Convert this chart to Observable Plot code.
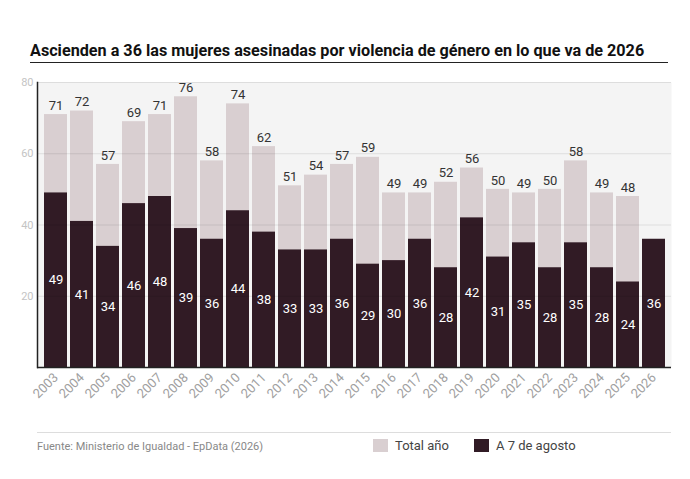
<!DOCTYPE html>
<html>
<head>
<meta charset="utf-8">
<script src="https://cdn.jsdelivr.net/npm/d3@7"></script>
<script src="https://cdn.jsdelivr.net/npm/@observablehq/plot@0.6"></script>
<style>
  html, body { margin: 0; padding: 0; background: #fff; }
  #wrap { position: relative; width: 690px; height: 479px; font-family: Roboto, "Liberation Sans", sans-serif; }
  #title { position: absolute; left: 30px; top: 41px; width: 638px; font-size: 16.2px; font-weight: bold; color: #111;
           border-bottom: 1.5px solid #222; padding-bottom: 2px; white-space: nowrap; }
  #chart { position: absolute; left: 0; top: 68px; }
  #sep { position: absolute; left: 37px; top: 432px; width: 634px; height: 0; border-top: 1px solid #ddd; }
  #source { position: absolute; left: 37px; top: 440px; font-size: 11px; color: #888; }
  #legend { position: absolute; left: 373px; top: 438px; font-size: 13px; color: #444; display: flex; align-items: center; }
  .sw { display: inline-block; width: 15px; height: 13px; margin-right: 7px; }
  .item { display: flex; align-items: center; margin-right: 25px; }
</style>
</head>
<body>
<div id="wrap">
  <div id="title">Ascienden a 36 las mujeres asesinadas por violencia de género en lo que va de 2026</div>
  <div id="chart"></div>
  <div id="sep"></div>
  <div id="source">Fuente: Ministerio de Igualdad - EpData (2026)</div>
  <div id="legend">
    <span class="item"><span class="sw" style="background:#d9cfd1"></span>Total año</span>
    <span class="item"><span class="sw" style="background:#311b25"></span>A 7 de agosto</span>
  </div>
</div>
<script>
const years = ["2003","2004","2005","2006","2007","2008","2009","2010","2011","2012","2013","2014","2015","2016","2017","2018","2019","2020","2021","2022","2023","2024","2025","2026"];
const totalAnio = [71,72,57,69,71,76,58,74,62,51,54,57,59,49,49,52,56,50,49,50,58,49,48,null];
const aSieteAgosto = [49,41,34,46,48,39,36,44,38,33,33,36,29,30,36,28,42,31,35,28,35,28,24,36];
const yTicks = [20,40,60,80];

const lightColor = "#d9cfd1";
const darkColor = "#311b25";

const totals = years.map((y, i) => ({year: y, value: totalAnio[i]})).filter(d => d.value != null);
const partial = years.map((y, i) => ({year: y, value: aSieteAgosto[i]}));

const chart = Plot.plot({
  width: 690,
  height: 345,
  marginTop: 14,
  marginLeft: 37,
  marginRight: 19,
  marginBottom: 46,
  style: {fontFamily: "Roboto, sans-serif", background: "transparent"},
  x: {domain: years, padding: 0.13, label: null},
  y: {domain: [0, 80], label: null},
  marks: [
    Plot.frame({fill: "#f4f4f4", stroke: null}),
    Plot.barY(totals, {x: "year", y: "value", fill: lightColor}),
    Plot.barY(partial, {x: "year", y: "value", fill: darkColor}),
    Plot.ruleY(yTicks, {stroke: "#000", strokeOpacity: 0.09}),
    Plot.ruleY([80], {stroke: "#ddd"}),
    Plot.text(totals, {x: "year", y: "value", text: d => String(d.value), dy: -9, fill: "#333", fontSize: 13}),
    Plot.text(partial, {x: "year", y: d => d.value / 2, text: d => String(d.value), fill: "#fff", fontSize: 13}),
    Plot.axisY(yTicks, {tickSize: 0, tickPadding: 4, fill: "#c4c4c4", fontSize: 11, label: null}),
    Plot.axisX({tickSize: 0, tickRotate: -45, tickPadding: 8, fill: "#a0a0a0", fontSize: 13, label: null}),
    Plot.ruleY([0], {stroke: "#222", strokeWidth: 1.5}),
    Plot.frame({anchor: "left", stroke: "#222", strokeWidth: 1.5})
  ]
});
document.getElementById("chart").appendChild(chart);
</script>
</body>
</html>
